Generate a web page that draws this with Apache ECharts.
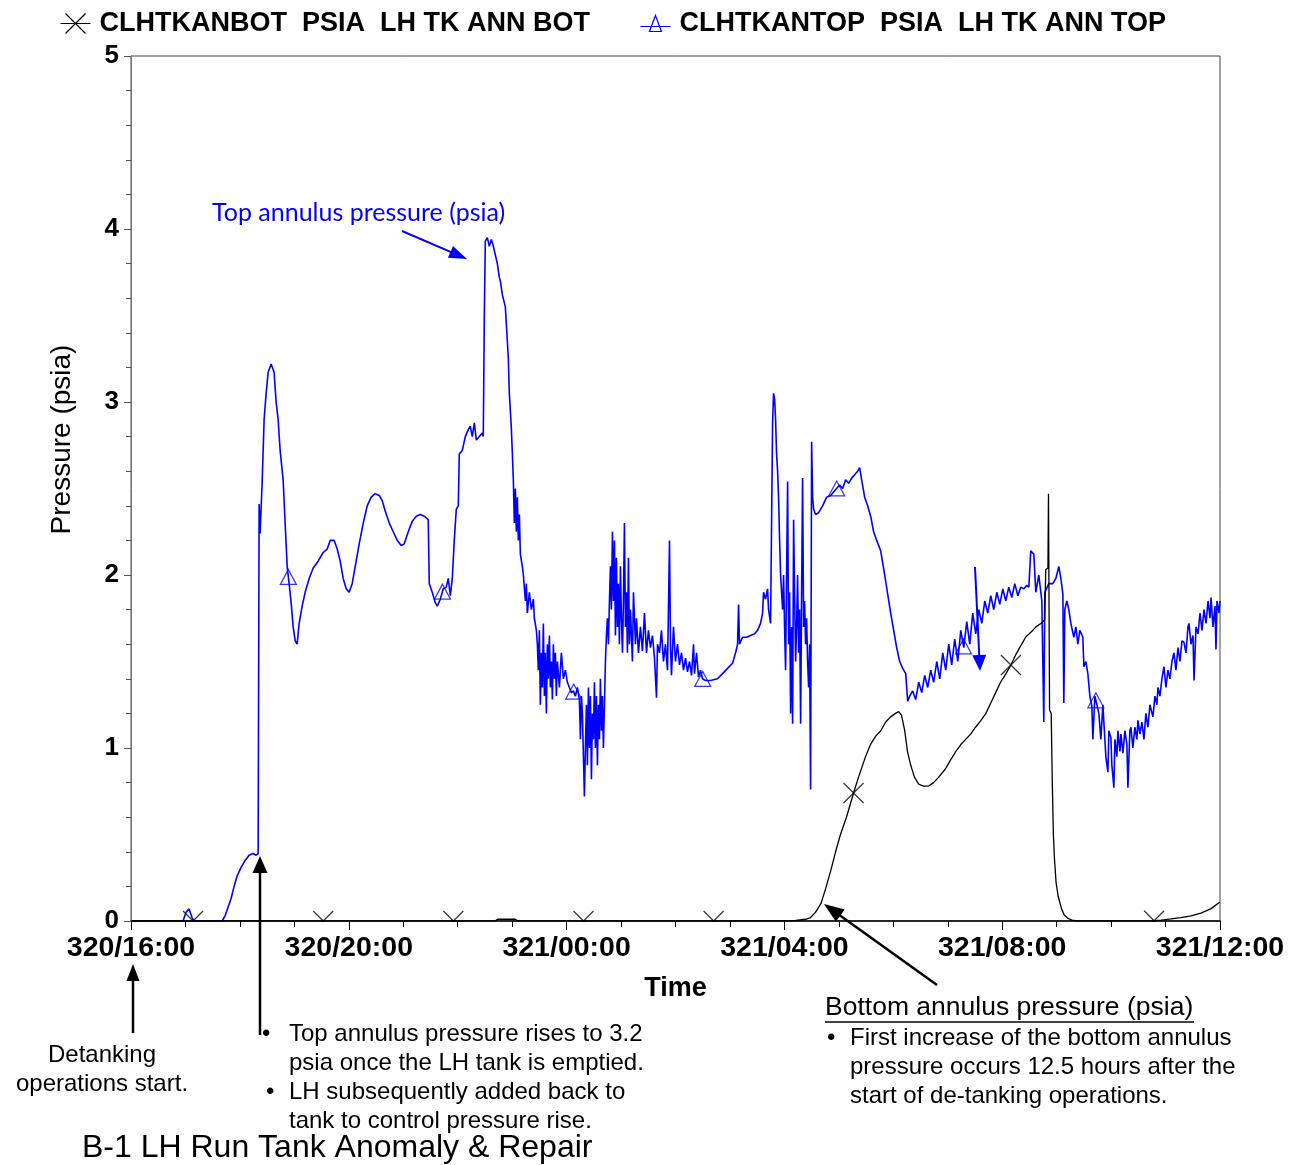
<!DOCTYPE html>
<html>
<head>
<meta charset="utf-8">
<script src="https://cdn.jsdelivr.net/npm/echarts@6/dist/echarts.min.js"></script>
<style>html,body{margin:0;padding:0;background:#fff}#chart{width:1304px;height:1165px}</style>
</head>
<body>
<div id="chart"></div>
<script>
// ---- DATA (time in hours after 320/16:00, pressure in psia) ----
const xTickLabels = ['320/16:00','320/20:00','321/00:00','321/04:00','321/08:00','321/12:00'];
const botName = 'CLHTKANBOT  PSIA  LH TK ANN BOT';
const topName = 'CLHTKANTOP  PSIA  LH TK ANN TOP';

const topAnnulusPsia = [
[0,0],[0.956,0],[1.011,0.05],[1.066,0.07],[1.121,0.02],[1.158,0],[1.673,0],[1.728,0.03],[1.783,0.08],[1.838,0.13],
[1.893,0.2],[1.949,0.26],[2.022,0.31],[2.096,0.35],[2.169,0.38],[2.243,0.39],[2.298,0.38],[2.335,0.39],[2.353,2.41],[2.371,2.24],
[2.408,2.53],[2.445,2.9],[2.482,3.05],[2.518,3.17],[2.574,3.22],[2.629,3.17],[2.665,3.0],[2.702,2.9],[2.739,2.72],[2.794,2.55],
[2.831,2.3],[2.868,2.05],[2.904,1.95],[2.941,1.84],[2.978,1.7],[3.015,1.62],[3.051,1.6],[3.088,1.72],[3.143,1.82],[3.198,1.9],
[3.272,1.98],[3.346,2.04],[3.437,2.08],[3.529,2.13],[3.603,2.15],[3.658,2.2],[3.732,2.2],[3.787,2.15],[3.842,2.08],[3.897,1.98],
[3.952,1.92],[4.007,1.9],[4.062,1.95],[4.118,2.05],[4.191,2.18],[4.265,2.3],[4.338,2.4],[4.412,2.45],[4.485,2.47],[4.559,2.46],
[4.614,2.43],[4.669,2.37],[4.743,2.3],[4.816,2.25],[4.890,2.2],[4.963,2.17],[5.018,2.18],[5.092,2.25],[5.165,2.31],[5.239,2.34],
[5.312,2.35],[5.386,2.34],[5.459,2.32],[5.478,1.95],[5.533,1.9],[5.588,1.84],[5.625,1.82],[5.680,1.86],[5.735,1.92],[5.790,1.93],
[5.827,1.98],[5.864,1.88],[5.901,1.98],[5.937,2.2],[5.974,2.38],[6.011,2.4],[6.029,2.7],[6.084,2.72],[6.140,2.8],[6.195,2.84],
[6.231,2.86],[6.268,2.8],[6.305,2.88],[6.342,2.78],[6.397,2.8],[6.452,2.82],[6.470,2.8],[6.489,3.5],[6.507,3.93],[6.544,3.95],
[6.581,3.9],[6.618,3.94],[6.654,3.9],[6.691,3.85],[6.728,3.8],[6.765,3.72],[6.783,3.7],[6.820,3.62],[6.875,3.55],[6.912,3.35],
[6.930,3.25],[6.948,3.05],[6.967,2.95],[6.985,2.85],[7.004,2.7],[7.022,2.55],[7.040,2.3],[7.059,2.5],[7.077,2.25],[7.095,2.45],
[7.114,2.2],[7.132,2.35],[7.151,2.12],[7.187,2.05],[7.206,2.0],[7.243,1.85],[7.261,1.95],[7.279,1.78],[7.316,1.9],[7.353,1.8],
[7.390,1.86],[7.408,1.75],[7.445,1.68],[7.463,1.6],[7.481,1.45],[7.500,1.68],[7.518,1.25],[7.537,1.55],[7.555,1.35],[7.573,1.72],
[7.592,1.3],[7.610,1.55],[7.629,1.2],[7.647,1.6],[7.665,1.4],[7.684,1.65],[7.702,1.35],[7.720,1.5],[7.739,1.28],[7.757,1.6],
[7.776,1.4],[7.794,1.55],[7.812,1.3],[7.831,1.5],[7.868,1.35],[7.904,1.55],[7.941,1.4],[7.978,1.45],[8.015,1.38],[8.051,1.35],
[8.088,1.32],[8.125,1.33],[8.162,1.3],[8.198,1.35],[8.235,1.28],[8.254,1.05],[8.272,1.3],[8.290,1.2],[8.309,0.95],[8.327,0.72],
[8.345,1.0],[8.364,1.25],[8.382,0.9],[8.401,1.35],[8.419,1.0],[8.437,1.3],[8.456,0.82],[8.474,1.2],[8.493,1.05],[8.511,1.38],
[8.529,1.0],[8.548,1.3],[8.566,0.9],[8.584,1.25],[8.603,1.05],[8.621,1.4],[8.640,1.1],[8.658,1.3],[8.676,1.0],[8.695,1.25],
[8.713,1.5],[8.731,1.65],[8.750,1.75],[8.768,1.6],[8.787,1.85],[8.805,2.05],[8.823,1.8],[8.842,2.25],[8.860,1.85],[8.879,2.2],
[8.897,1.65],[8.915,2.1],[8.934,1.7],[8.952,1.95],[8.970,1.6],[8.989,2.05],[9.007,1.75],[9.026,1.55],[9.044,1.85],[9.062,2.3],
[9.081,1.7],[9.099,1.9],[9.117,1.55],[9.136,2.1],[9.154,1.6],[9.173,1.8],[9.209,1.5],[9.228,1.9],[9.265,1.6],[9.283,1.75],
[9.320,1.55],[9.356,1.7],[9.393,1.56],[9.430,1.78],[9.467,1.55],[9.503,1.68],[9.540,1.58],[9.577,1.65],[9.614,1.52],[9.651,1.29],
[9.669,1.6],[9.706,1.55],[9.742,1.68],[9.779,1.5],[9.816,1.6],[9.853,1.45],[9.890,2.2],[9.908,1.6],[9.926,1.42],[9.963,1.7],
[10.000,1.5],[10.037,1.6],[10.073,1.48],[10.110,1.55],[10.147,1.45],[10.184,1.52],[10.220,1.44],[10.257,1.5],[10.294,1.42],[10.331,1.6],
[10.349,1.43],[10.386,1.55],[10.423,1.41],[10.459,1.45],[10.496,1.4],[10.551,1.39],[10.643,1.39],[10.772,1.4],[10.864,1.43],[10.956,1.46],
[11.048,1.49],[11.103,1.55],[11.140,1.6],[11.158,1.83],[11.176,1.6],[11.231,1.64],[11.305,1.64],[11.378,1.65],[11.452,1.66],[11.507,1.68],
[11.562,1.72],[11.599,1.78],[11.617,1.9],[11.654,1.86],[11.691,1.92],[11.709,1.8],[11.746,1.72],[11.764,1.72],[11.783,2.88],[11.801,3.05],
[11.820,3.02],[11.838,2.9],[11.856,2.7],[11.875,2.6],[11.893,2.45],[11.912,2.2],[11.930,2.0],[11.948,1.9],[11.967,1.8],[11.985,2.0],
[12.003,1.7],[12.022,1.45],[12.040,2.0],[12.059,2.54],[12.077,1.6],[12.095,1.9],[12.114,1.2],[12.132,1.7],[12.151,1.14],[12.169,2.32],
[12.187,1.9],[12.206,1.5],[12.224,1.7],[12.242,2.0],[12.261,1.55],[12.279,1.8],[12.298,1.14],[12.316,1.9],[12.334,2.56],[12.353,1.7],
[12.371,1.85],[12.389,1.6],[12.408,1.75],[12.426,1.5],[12.445,1.35],[12.463,1.6],[12.481,0.76],[12.500,2.77],[12.518,2.45],[12.537,2.38],
[12.573,2.35],[12.628,2.36],[12.702,2.4],[12.775,2.45],[12.849,2.46],[12.904,2.48],[12.959,2.5],[13.014,2.52],[13.070,2.5],[13.125,2.55],
[13.180,2.53],[13.235,2.56],[13.290,2.58],[13.345,2.6],[13.382,2.62],[13.419,2.55],[13.474,2.45],[13.529,2.4],[13.584,2.34],[13.639,2.25],
[13.695,2.2],[13.768,2.14],[13.842,2.0],[13.897,1.89],[13.952,1.78],[14.007,1.68],[14.062,1.58],[14.117,1.5],[14.173,1.46],[14.228,1.43],
[14.246,1.42],[14.264,1.27],[14.301,1.3],[14.356,1.33],[14.411,1.28],[14.467,1.38],[14.522,1.32],[14.577,1.42],[14.632,1.35],[14.687,1.45],
[14.742,1.38],[14.798,1.5],[14.853,1.4],[14.908,1.55],[14.963,1.45],[15.018,1.6],[15.073,1.48],[15.128,1.63],[15.184,1.5],[15.239,1.68],
[15.294,1.58],[15.349,1.73],[15.404,1.6],[15.459,1.78],[15.514,1.66],[15.570,1.8],[15.625,1.72],[15.680,1.85],[15.735,1.78],[15.790,1.88],
[15.845,1.8],[15.901,1.9],[15.956,1.83],[16.011,1.92],[16.066,1.85],[16.121,1.93],[16.176,1.87],[16.231,1.95],[16.287,1.88],[16.342,1.93],
[16.397,1.92],[16.452,1.94],[16.489,1.93],[16.525,2.14],[16.581,2.12],[16.617,1.9],[16.672,2.0],[16.728,1.85],[16.764,1.15],[16.783,1.9],
[16.856,1.95],[16.930,1.95],[16.985,1.98],[17.040,2.05],[17.077,1.98],[17.114,1.89],[17.132,1.26],[17.150,1.8],[17.187,1.85],[17.224,1.8],
[17.261,1.72],[17.316,1.64],[17.353,1.7],[17.389,1.6],[17.426,1.68],[17.481,1.64],[17.500,1.47],[17.536,1.5],[17.573,1.43],[17.610,1.3],
[17.647,1.24],[17.665,1.05],[17.702,1.3],[17.739,1.25],[17.775,1.2],[17.812,1.05],[17.849,1.25],[17.867,1.15],[17.904,0.95],[17.941,0.86],
[17.959,1.1],[17.996,1.06],[18.014,0.9],[18.051,0.77],[18.070,1.05],[18.106,0.95],[18.125,1.1],[18.162,0.98],[18.180,1.08],[18.217,0.97],
[18.253,1.1],[18.290,1.02],[18.309,0.77],[18.345,1.1],[18.364,1.12],[18.400,1.0],[18.437,1.12],[18.474,1.05],[18.492,1.16],[18.529,1.08],
[18.566,1.15],[18.603,1.05],[18.639,1.2],[18.676,1.12],[18.713,1.25],[18.731,1.26],[18.768,1.18],[18.805,1.3],[18.841,1.25],[18.860,1.35],
[18.897,1.3],[18.933,1.4],[18.970,1.47],[19.007,1.35],[19.044,1.45],[19.081,1.4],[19.117,1.5],[19.154,1.55],[19.191,1.45],[19.228,1.58],
[19.265,1.5],[19.301,1.62],[19.338,1.61],[19.375,1.55],[19.412,1.7],[19.430,1.72],[19.467,1.6],[19.504,1.65],[19.523,1.39],[19.559,1.7],
[19.596,1.66],[19.633,1.78],[19.669,1.68],[19.706,1.8],[19.743,1.72],[19.780,1.85],[19.816,1.75],[19.835,1.87],[19.871,1.7],[19.908,1.82],
[19.926,1.57],[19.945,1.85],[19.982,1.78],[20.000,1.85]
];

const bottomAnnulusPsia = [
[0,0],[6.69,0],[6.73,0.01],[7.06,0.01],[7.10,0],[12.02,0],[12.21,0.003],[12.39,0.01],[12.48,0.02],[12.57,0.05],
[12.67,0.1],[12.76,0.19],[12.85,0.29],[12.94,0.4],[13.03,0.5],[13.14,0.6],[13.27,0.74],[13.36,0.83],[13.49,0.95],[13.58,1.02],
[13.68,1.07],[13.77,1.1],[13.86,1.15],[13.95,1.18],[14.04,1.2],[14.10,1.21],[14.15,1.19],[14.21,1.1],[14.26,0.98],[14.32,0.9],
[14.39,0.83],[14.47,0.79],[14.56,0.78],[14.65,0.78],[14.74,0.8],[14.83,0.83],[14.96,0.88],[15.05,0.93],[15.15,0.98],[15.24,1.02],
[15.33,1.05],[15.42,1.08],[15.51,1.12],[15.61,1.16],[15.70,1.2],[15.79,1.26],[15.88,1.32],[15.97,1.38],[16.07,1.43],[16.16,1.48],
[16.25,1.54],[16.34,1.59],[16.43,1.64],[16.53,1.67],[16.62,1.7],[16.71,1.72],[16.78,1.74],[16.80,2.03],[16.84,2.04],[16.85,2.47],
[16.87,1.22],[16.90,1.2],[16.92,0.8],[16.94,0.5],[16.96,0.36],[16.99,0.22],[17.03,0.14],[17.09,0.07],[17.14,0.035],[17.21,0.015],
[17.28,0.005],[17.39,0],[18.73,0],[18.92,0.005],[19.10,0.012],[19.28,0.02],[19.47,0.03],[19.65,0.045],[19.83,0.07],[20.0,0.11]
];

// times (hours) at which the recorder drew its symbols
const topSymbolTimes = [2.89, 5.72, 8.13, 10.50, 12.96, 15.29, 17.72];
const bottomSymbolTimes = [1.14, 3.53, 5.92, 8.31, 10.70, 13.27, 16.16, 18.79];

// ---- helpers ----
function valueAt(series, t) {
  for (let i = 1; i < series.length; i++) {
    if (series[i][0] >= t) {
      const a = series[i-1], b = series[i];
      const f = (t - a[0]) / ((b[0] - a[0]) || 1);
      return a[1] + f * (b[1] - a[1]);
    }
  }
  return series[series.length-1][1];
}
const ARIAL = '"Liberation Sans", Arial, sans-serif';
function txt(x, y, text, size, color, align, family, weight) {
  return {type:'text', x:x, y:y, z:100, style:{text:text, fill:color||'#000',
    font:(weight||'normal')+' '+size+'px '+(family||ARIAL),
    align:align||'left', textAlign:align||'left', verticalAlign:'middle', textVerticalAlign:'middle'}};
}
function arrow(x1,y1,x2,y2,color,w,hl,hw) {
  const dx=x2-x1, dy=y2-y1, L=Math.hypot(dx,dy), ux=dx/L, uy=dy/L;
  const bx=x2-ux*hl, by=y2-uy*hl, px=-uy*hw/2, py=ux*hw/2;
  return [
    {type:'line', z:100, shape:{x1:x1,y1:y1,x2:bx+ux*2,y2:by+uy*2}, style:{stroke:color,lineWidth:w}},
    {type:'polygon', z:100, shape:{points:[[x2,y2],[bx+px,by+py],[bx-px,by-py]]}, style:{fill:color}}
  ];
}

const chart = echarts.init(document.getElementById('chart'), null, {renderer:'canvas'});
const graphics = [].concat(
  // white strip below the x axis: the recorder's symbols are cut at the frame
  [{type:'rect', z:6, shape:{x:120, y:922, width:1110, height:14}, style:{fill:'#fff'}}],
  [txt(212, 213, 'Top annulus pressure (psia)', 25, '#0000ff', 'left', 'Lato, "Open Sans", sans-serif')],
  arrow(402, 231, 467, 259, '#0000ff', 2, 18, 13),
  arrow(975, 567, 980, 671, '#0000ff', 2, 16, 14),
  arrow(260, 1035, 260, 856, '#000', 2.5, 17, 15),
  arrow(133, 1033, 133, 964, '#000', 2.5, 17, 13),
  arrow(937, 985, 824, 904, '#000', 2.5, 20, 15),
  [
    txt(102, 1055, 'Detanking', 24, '#000', 'center'),
    txt(102, 1084, 'operations start.', 24, '#000', 'center'),
    txt(262, 1034, '•', 24), txt(289, 1034, 'Top annulus pressure rises to 3.2', 24),
    txt(289, 1063, 'psia once the LH tank is emptied.', 24),
    txt(266, 1092, '•', 24), txt(289, 1092, 'LH subsequently added back to', 24),
    txt(289, 1121, 'tank to control pressure rise.', 24),
    txt(82, 1148, 'B-1 LH Run Tank Anomaly & Repair', 32),
    txt(825, 1008, 'Bottom annulus pressure (psia)', 26.5),
    {type:'line', z:100, shape:{x1:825,y1:1022,x2:1194,y2:1022}, style:{stroke:'#000',lineWidth:1.5}},
    txt(827, 1038, '•', 24), txt(850, 1038, 'First increase of the bottom annulus', 24),
    txt(850, 1067, 'pressure occurs 12.5 hours after the', 24),
    txt(850, 1096, 'start of de-tanking operations.', 24)
  ]
);

const option = {
  animation: false,
  backgroundColor: '#fff',
  grid: {left:131, right:84, top:56, bottom:244, show:true, borderColor:'#444', borderWidth:1, backgroundColor:'transparent'},
  legend: {
    left: 58, top: 10, itemGap: 48, itemWidth: 30, itemHeight: 22, padding: 0,
    textStyle: {fontFamily: ARIAL, fontWeight:'bold', fontSize: 27, color:'#000', padding:[0,0,0,4]},
    data: [
      {name: botName, icon:'path://M0,11L30,11M5,1L25,21M25,1L5,21', itemStyle:{color:'none', borderColor:'#000', borderWidth:1.2}},
      {name: topName, icon:'path://M0,14L30,14M15,3L21,19L9,19Z', itemStyle:{color:'none', borderColor:'#0000ff', borderWidth:1.2}}
    ]
  },
  xAxis: {
    type:'value', min:0, max:20, interval:4, z:10,
    name:'Time', nameLocation:'middle', nameGap:54,
    nameTextStyle:{fontFamily:ARIAL, fontWeight:'bold', fontSize:27, color:'#000'},
    axisLine:{show:true, onZero:false, lineStyle:{color:'#000', width:1.5}},
    axisTick:{show:true, length:9, lineStyle:{color:'#000', width:1}},
    minorTick:{show:true, splitNumber:4, length:6, lineStyle:{color:'#000', width:1}},
    splitLine:{show:false}, minorSplitLine:{show:false},
    axisLabel:{margin:13, fontFamily:ARIAL, fontWeight:'bold', fontSize:28.5, color:'#000',
      formatter: v => xTickLabels[Math.round(v/4)]}
  },
  yAxis: {
    type:'value', min:0, max:5, interval:1, z:10,
    name:'Pressure (psia)', nameLocation:'middle', nameGap:55, nameRotate:90,
    nameTextStyle:{fontFamily:ARIAL, fontSize:28, color:'#000', padding:[0,0,0,98]},
    axisLine:{show:true, onZero:false, lineStyle:{color:'#777', width:1}},
    axisTick:{show:true, length:7, lineStyle:{color:'#555', width:1}},
    minorTick:{show:true, splitNumber:5, length:5, lineStyle:{color:'#555', width:1}},
    splitLine:{show:false}, minorSplitLine:{show:false},
    axisLabel:{margin:12, fontFamily:ARIAL, fontWeight:'bold', fontSize:26, color:'#000'}
  },
  series: [
    {name: topName, type:'line', data: topAnnulusPsia, showSymbol:false, symbol:'none',
     lineStyle:{color:'#0000ff', width:1.6}, itemStyle:{color:'#0000ff'}, z:3, emphasis:{disabled:true}},
    {name: botName, type:'line', data: bottomAnnulusPsia, showSymbol:false, symbol:'none',
     lineStyle:{color:'#000', width:1.3}, itemStyle:{color:'#000'}, z:4, emphasis:{disabled:true}},
    {name:'topSymbols', type:'scatter', symbol:'triangle', symbolSize:[16,15], z:5,
     data: topSymbolTimes.map(t => [t, valueAt(topAnnulusPsia, t)]),
     itemStyle:{color:'rgba(0,0,0,0)', borderColor:'#0000ff', borderWidth:1.2}, emphasis:{disabled:true}},
    {name:'bottomSymbols', type:'scatter', symbol:'path://M0,0L20,20M20,0L0,20', symbolSize:20, z:5,
     data: bottomSymbolTimes.map(t => [t, valueAt(bottomAnnulusPsia, t)]),
     itemStyle:{color:'rgba(0,0,0,0)', borderColor:'#000', borderWidth:1.2}, emphasis:{disabled:true}}
  ],
  graphic: graphics
};
chart.setOption(option);
</script>
</body>
</html>
